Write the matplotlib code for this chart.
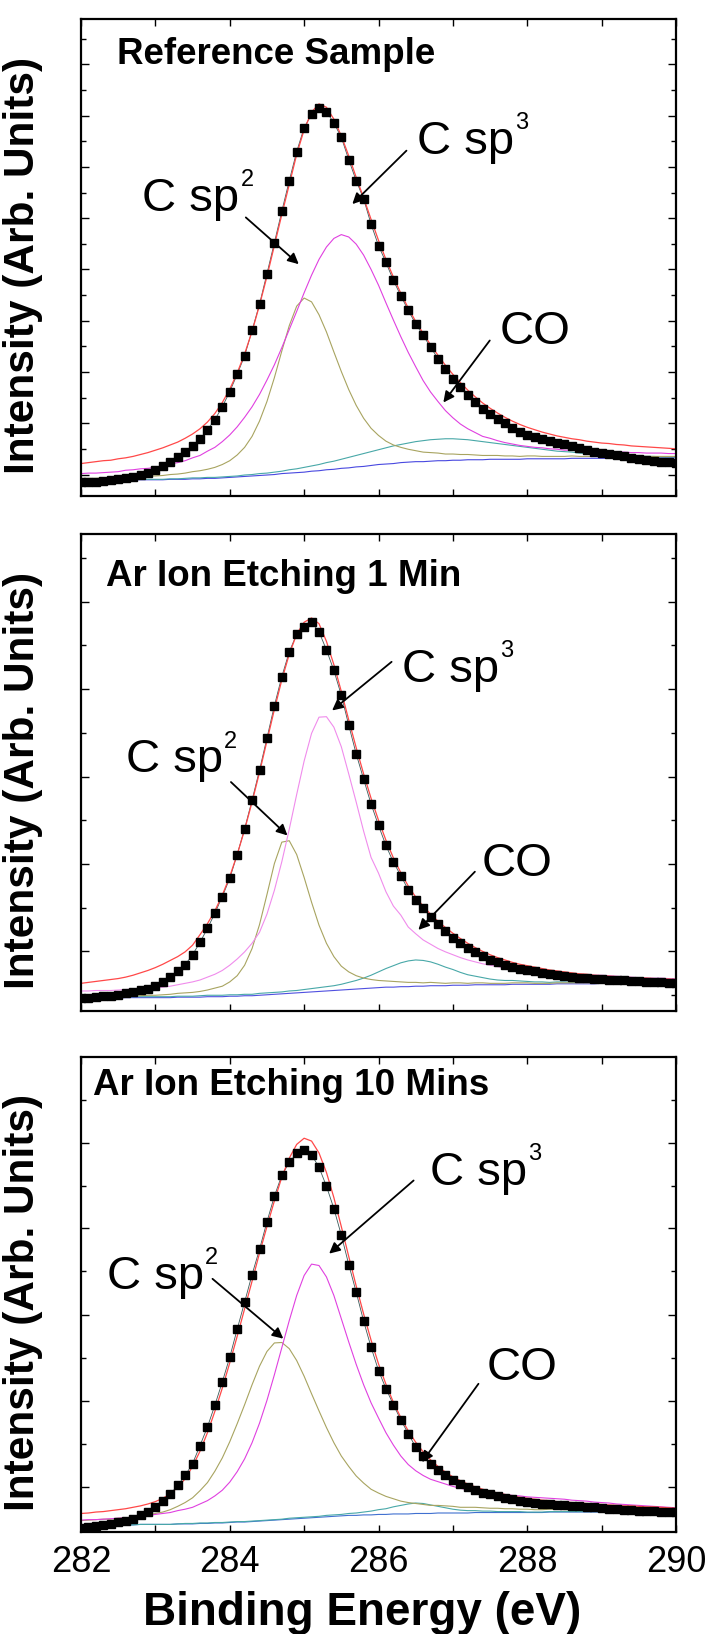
import numpy as np
import matplotlib
matplotlib.use("Agg")
import matplotlib.pyplot as plt

plt.rcParams['font.family'] = ['Liberation Sans', 'DejaVu Sans']

# binding energy grid, 0.1 eV steps
energy = np.linspace(282.0, 290.0, 81)

# ---- Reference sample ----
data1 = [29, 29, 30, 31, 33, 35, 37, 40, 44, 49, 55, 62, 71, 81, 92, 105, 120, 139, 160, 187,
         219, 255, 294, 347, 402, 466, 531, 597, 661, 722, 772, 800, 813, 806, 782, 752, 705, 661, 623, 570,
         525, 490, 452, 420, 389, 361, 337, 312, 288, 267, 246, 228, 211, 197, 183, 172, 162, 152, 143, 134,
         127, 123, 119, 115, 111, 108, 104, 100, 97, 93, 91, 88, 85, 83, 80, 78, 76, 74, 72, 71, 70]
fit1 = [68, 70, 72, 74, 75, 78, 80, 83, 87, 91, 96, 101, 107, 113, 121, 130, 141, 155, 173, 196,
        224, 258, 298, 345, 400, 460, 525, 590, 653, 716, 768, 805, 822, 815, 790, 755, 713, 668, 625, 580,
        536, 496, 459, 425, 394, 366, 341, 317, 295, 274, 255, 238, 222, 208, 195, 184, 174, 165, 157, 150,
        144, 139, 134, 130, 126, 123, 120, 118, 115, 113, 111, 110, 108, 107, 105, 104, 103, 102, 101, 100, 99]
bg1 = [33, 33, 33, 33, 33, 33, 34, 34, 34, 34, 34, 34, 35, 35, 35, 36, 36, 37, 37, 38,
       39, 40, 41, 42, 43, 44, 45, 47, 48, 49, 50, 52, 53, 55, 56, 58, 59, 61, 62, 64,
       66, 67, 68, 70, 71, 72, 72, 73, 74, 74, 75, 75, 76, 76, 76, 77, 77, 77, 77, 77,
       78, 78, 78, 78, 78, 78, 79, 79, 79, 79, 79, 79, 79, 80, 80, 80, 80, 80, 80, 80, 80]
sp2_1 = [4, 4, 4, 5, 5, 5, 6, 6, 7, 8, 8, 9, 10, 11, 13, 15, 17, 19, 23, 28,
         35, 46, 61, 83, 114, 154, 203, 257, 309, 349, 365, 355, 327, 289, 246, 203, 164, 129, 101, 78,
         61, 48, 39, 32, 27, 23, 20, 18, 16, 14, 13, 12, 11, 10, 9, 8, 8, 7, 7, 6,
         6, 6, 5, 5, 5, 5, 5, 4, 4, 4, 4, 4, 4, 4, 3, 3, 3, 3, 3, 3, 3]
sp3_1 = [14, 15, 15, 16, 17, 18, 20, 21, 23, 24, 26, 29, 32, 35, 39, 44, 49, 57, 65, 76,
         89, 105, 124, 145, 170, 199, 230, 264, 301, 338, 376, 411, 443, 467, 484, 490, 484, 467, 443, 411,
         376, 338, 301, 264, 230, 199, 170, 145, 124, 105, 89, 76, 65, 57, 49, 44, 39, 35, 32, 29,
         26, 24, 23, 21, 20, 18, 17, 16, 15, 15, 14, 13, 13, 12, 11, 11, 10, 10, 10, 9, 9]
co_1 = [0, 0, 0, 0, 0, 1, 1, 1, 1, 1, 1, 1, 1, 1, 2, 2, 2, 2, 2, 2,
        2, 2, 3, 3, 4, 4, 5, 5, 7, 8, 10, 11, 13, 15, 17, 19, 22, 24, 27, 29,
        31, 34, 37, 38, 40, 42, 44, 45, 45, 46, 45, 44, 42, 40, 38, 35, 33, 31, 29, 27,
        24, 22, 20, 18, 16, 15, 13, 11, 10, 9, 8, 7, 6, 5, 4, 4, 3, 3, 2, 2, 2]

# ---- Ar ion etching 1 min ----
data2 = [27, 28, 30, 31, 32, 34, 37, 40, 43, 47, 52, 60, 72, 84, 97, 118, 144, 173, 205, 240,
         278, 328, 382, 442, 505, 572, 640, 701, 753, 790, 805, 815, 795, 757, 714, 662, 599, 539, 486, 434,
         389, 347, 312, 284, 254, 232, 215, 197, 182, 167, 154, 142, 132, 123, 115, 107, 102, 97, 93, 89,
         86, 83, 80, 77, 75, 73, 72, 70, 69, 68, 67, 66, 65, 64, 63, 62, 61, 60, 60, 59, 58]
fit2 = [58, 60, 62, 64, 66, 68, 71, 75, 80, 85, 91, 98, 106, 114, 124, 138, 160, 183, 210, 243,
        282, 328, 380, 438, 500, 566, 632, 694, 748, 790, 815, 824, 812, 775, 726, 670, 610, 552, 497, 446,
        400, 358, 321, 290, 262, 239, 220, 203, 188, 175, 163, 152, 142, 133, 125, 118, 112, 107, 102, 98,
        95, 92, 89, 86, 84, 82, 80, 78, 77, 75, 74, 73, 72, 71, 70, 69, 69, 68, 67, 67, 66]
bg2 = [27, 27, 27, 27, 27, 27, 28, 28, 28, 28, 28, 28, 28, 29, 29, 29, 29, 30, 30, 30,
       31, 31, 32, 32, 33, 34, 35, 36, 37, 38, 39, 40, 41, 42, 43, 44, 45, 46, 47, 48,
       49, 50, 50, 51, 51, 52, 52, 53, 53, 53, 54, 54, 54, 55, 55, 55, 55, 55, 56, 56,
       56, 56, 56, 56, 57, 57, 57, 57, 57, 57, 58, 58, 58, 58, 58, 58, 58, 58, 59, 59, 59]
sp2_2 = [2, 2, 3, 3, 3, 3, 4, 4, 4, 5, 5, 6, 7, 8, 9, 10, 12, 14, 18, 22,
         30, 43, 64, 99, 148, 210, 274, 318, 320, 290, 241, 188, 139, 100, 71, 50, 37, 28, 22, 18,
         15, 13, 12, 10, 9, 8, 7, 7, 6, 5, 5, 5, 4, 4, 4, 3, 3, 3, 3, 3,
         3, 2, 2, 2, 2, 2, 2, 2, 2, 2, 2, 2, 2, 2, 2, 1, 1, 1, 1, 1, 1]
sp3_2 = [15, 15, 16, 16, 16, 17, 17, 18, 19, 20, 21, 22, 24, 26, 29, 32, 36, 41, 47, 55,
         65, 78, 92, 110, 132, 169, 218, 277, 344, 416, 485, 542, 575, 575, 552, 510, 452, 392, 330, 274,
         240, 200, 170, 150, 125, 110, 97, 87, 78, 71, 64, 58, 53, 48, 44, 41, 38, 35, 33, 31,
         29, 28, 26, 25, 23, 22, 21, 20, 19, 18, 17, 16, 15, 14, 13, 12, 11, 11, 10, 9, 9]
co_2 = [1, 1, 1, 1, 1, 1, 1, 2, 2, 2, 2, 2, 2, 2, 2, 2, 3, 3, 3, 3,
        3, 3, 3, 3, 4, 4, 4, 4, 5, 5, 6, 7, 8, 9, 10, 12, 15, 18, 22, 27,
        33, 39, 45, 50, 54, 55, 54, 50, 45, 39, 33, 27, 22, 18, 15, 12, 10, 9, 8, 7,
        6, 5, 5, 4, 4, 4, 3, 3, 3, 3, 3, 2, 2, 2, 2, 2, 2, 2, 1, 1, 1]

# ---- Ar ion etching 10 mins ----
data3 = [9, 11, 13, 15, 17, 21, 24, 28, 35, 42, 52, 66, 80, 98, 119, 144, 182, 221, 267, 316,
         368, 427, 484, 542, 595, 653, 707, 751, 778, 797, 804, 794, 768, 728, 681, 625, 563, 505, 444, 389,
         340, 302, 268, 236, 207, 179, 161, 144, 130, 119, 109, 102, 95, 88, 83, 79, 76, 72, 69, 66,
         63, 61, 60, 58, 57, 56, 55, 54, 53, 52, 50, 49, 48, 47, 46, 45, 45, 44, 43, 43, 42]
fit3 = [39, 40, 42, 43, 45, 47, 49, 52, 55, 59, 64, 71, 80, 94, 112, 138, 170, 209, 254, 303,
        356, 412, 470, 528, 587, 643, 697, 747, 787, 816, 829, 823, 798, 757, 704, 643, 580, 518, 459, 404,
        354, 311, 273, 241, 213, 189, 169, 152, 138, 126, 116, 108, 101, 95, 90, 86, 82, 79, 76, 73,
        71, 69, 67, 66, 64, 63, 62, 61, 60, 59, 58, 57, 56, 55, 55, 54, 53, 53, 52, 51, 50]
bg3 = [15, 15, 15, 15, 15, 15, 15, 15, 16, 16, 16, 16, 16, 17, 17, 17, 18, 18, 19, 19,
       20, 21, 21, 22, 23, 24, 25, 26, 27, 28, 29, 30, 31, 32, 33, 34, 35, 35, 36, 36,
       37, 37, 38, 38, 38, 39, 39, 39, 40, 40, 40, 40, 40, 41, 41, 41, 41, 41, 41, 41,
       41, 41, 41, 42, 42, 42, 42, 42, 42, 42, 42, 42, 42, 42, 42, 42, 42, 42, 42, 42, 42]
sp2_3 = [9, 10, 11, 12, 12, 14, 15, 16, 18, 20, 23, 26, 31, 37, 45, 55, 69, 86, 109, 137,
         170, 207, 247, 288, 326, 356, 373, 373, 359, 333, 299, 261, 224, 188, 155, 126, 103, 83, 67, 54,
         45, 38, 32, 27, 24, 21, 19, 17, 16, 15, 14, 12, 12, 11, 10, 9, 9, 8, 8, 7,
         7, 6, 6, 6, 6, 5, 5, 5, 5, 5, 4, 4, 4, 4, 3, 3, 3, 3, 3, 3, 3]
sp3_3 = [10, 11, 11, 12, 13, 14, 15, 16, 17, 19, 21, 23, 25, 28, 31, 35, 41, 48, 57, 69,
         85, 106, 133, 166, 206, 253, 306, 362, 418, 470, 511, 534, 530, 505, 465, 415, 365, 318, 274, 236,
         203, 172, 145, 122, 104, 90, 80, 72, 66, 61, 56, 52, 49, 46, 44, 42, 40, 38, 36, 35,
         33, 32, 31, 29, 28, 27, 25, 24, 23, 21, 20, 19, 17, 16, 15, 14, 13, 12, 11, 10, 9]
co_3 = [0, 0, 0, 0, 0, 0, 0, 0, 0, 0, 0, 0, 0, 0, 1, 1, 1, 1, 1, 1,
        1, 1, 1, 1, 1, 1, 1, 1, 2, 2, 2, 2, 2, 3, 3, 3, 4, 5, 6, 8,
        10, 12, 15, 18, 21, 22, 21, 18, 14, 11, 8, 6, 5, 4, 3, 3, 2, 2, 2, 2,
        1, 1, 1, 1, 1, 1, 1, 1, 1, 1, 1, 1, 1, 1, 1, 0, 0, 0, 0, 0, 0]

titles = ["Reference Sample", "Ar Ion Etching 1 Min", "Ar Ion Etching 10 Mins"]

panels = [
    dict(data=data1, fit=fit1, bg=bg1, sp2=sp2_1, sp3=sp3_1, co=co_1,
         magenta='#e040e0', blue='#4848e0',
         major=[45, 152.5, 260, 367.5, 475, 582.5, 690, 797.5, 905],
         minor=[98.75, 206.25, 313.75, 421.25, 528.75, 636.25, 743.75, 851.25, 958.75],
         title=(0.06, 0.906),
         sp2_txt=(0.103, 0.598), sp2_arr=((0.277, 0.584), (0.366, 0.486)),
         sp3_txt=(0.564, 0.717), sp3_arr=((0.547, 0.724), (0.456, 0.612)),
         co_txt=(0.704, 0.319), co_arr=((0.687, 0.326), (0.609, 0.196))),
    dict(data=data2, fit=fit2, bg=bg2, sp2=sp2_2, sp3=sp3_2, co=co_2,
         magenta='#f08cec', blue='#5050e0',
         major=[125, 308, 491, 675, 858],
         minor=[34, 216, 400, 583, 767, 950],
         title=(0.0415, 0.89),
         sp2_txt=(0.075, 0.50), sp2_arr=((0.252, 0.480), (0.347, 0.368)),
         sp3_txt=(0.539, 0.690), sp3_arr=((0.522, 0.732), (0.422, 0.630)),
         co_txt=(0.673, 0.282), co_arr=((0.662, 0.292), (0.567, 0.170))),
    dict(data=data3, fit=fit3, bg=bg3, sp2=sp2_3, sp3=sp3_3, co=co_3,
         magenta='#e040e0', blue='#4070d0',
         major=[94, 276, 457, 640, 819],
         minor=[186, 366, 549, 728, 909],
         title=(0.02, 0.919),
         sp2_txt=(0.044, 0.512), sp2_arr=((0.221, 0.533), (0.340, 0.407)),
         sp3_txt=(0.587, 0.730), sp3_arr=((0.559, 0.740), (0.417, 0.586)),
         co_txt=(0.682, 0.319), co_arr=((0.668, 0.312), (0.573, 0.147))),
]

W, H = 712, 1634
fig = plt.figure(figsize=(W / 100, H / 100), dpi=100)
renderer = fig.canvas.get_renderer()

# axes boxes in pixels: (top, bottom)
boxes = [(19, 496), (534, 1011), (1057, 1532)]
left_px, right_px = 81, 676

for i, p in enumerate(panels):
    top, bot = boxes[i]
    ax = fig.add_axes([left_px / W, 1 - bot / H, (right_px - left_px) / W, (bot - top) / H])
    bg = np.array(p['bg'])
    ax.plot(energy, bg, color=p['blue'], lw=0.8, zorder=2)
    ax.plot(energy, bg + np.array(p['co']), color='#48a8a8', lw=0.8, zorder=2)
    ax.plot(energy, bg + np.array(p['sp2']), color='#a8a460', lw=0.8, zorder=2)
    ax.plot(energy, bg + np.array(p['sp3']), color=p['magenta'], lw=0.8, zorder=2)
    ax.plot(energy, p['data'], color='#3a5a5a', lw=0.6, zorder=2)
    ax.plot(energy, p['fit'], color='#ff4848', lw=0.9, zorder=2)
    ax.plot(energy, p['data'], ls='none', marker='s', ms=5.7, color='k', zorder=3)

    ax.set_xlim(282, 290)
    ax.set_ylim(0, 1000)
    ax.set_xticks([282, 284, 286, 288, 290])
    ax.set_xticks([283, 285, 287, 289], minor=True)
    ax.set_yticks(p['major'])
    ax.set_yticks(p['minor'], minor=True)
    ax.set_yticklabels([])
    ax.tick_params(which='both', direction='in', top=True, right=True, width=1.0)
    ax.tick_params(axis='x', which='both', length=5)
    ax.tick_params(axis='y', which='major', length=5.5)
    ax.tick_params(axis='y', which='minor', length=3.5)
    for s in ax.spines.values():
        s.set_linewidth(1.6)
    if i < 2:
        ax.set_xticklabels([])
    else:
        ax.tick_params(axis='x', labelsize=26, pad=9)

    ax.text(p['title'][0], p['title'][1], titles[i], transform=ax.transAxes,
            fontsize=26.5, fontweight='bold', ha='left', va='baseline')

    for key, label, sup in [('sp2', 'C sp', '2'), ('sp3', 'C sp', '3'), ('co', 'CO', '')]:
        tx, ty = p[key + '_txt']
        t = ax.text(tx, ty, label, transform=ax.transAxes, fontsize=34, ha='left', va='baseline')
        if sup:
            wpx = t.get_window_extent(renderer=renderer).width
            ax.annotate(sup, xy=(tx, ty), xycoords='axes fraction', xytext=(wpx + 1, 25),
                        textcoords='offset pixels', fontsize=17, ha='left', va='baseline')
        tail, head = p[key + '_arr']
        ax.annotate('', xy=head, xytext=tail, xycoords='axes fraction', textcoords='axes fraction',
                    arrowprops=dict(arrowstyle='-|>', color='k', lw=1.3, mutation_scale=16,
                                    shrinkA=0, shrinkB=0))

    fig.text(23 / W, 1 - ((top + bot) / 2 + 8) / H, 'Intensity (Arb. Units)', rotation=90,
             fontsize=30.5, fontweight='bold', ha='center', va='center')

fig.text(362 / W, 1 - 1613 / H, 'Binding Energy (eV)', fontsize=33, fontweight='bold',
         ha='center', va='center')

fig.savefig('out.png', dpi=100)
